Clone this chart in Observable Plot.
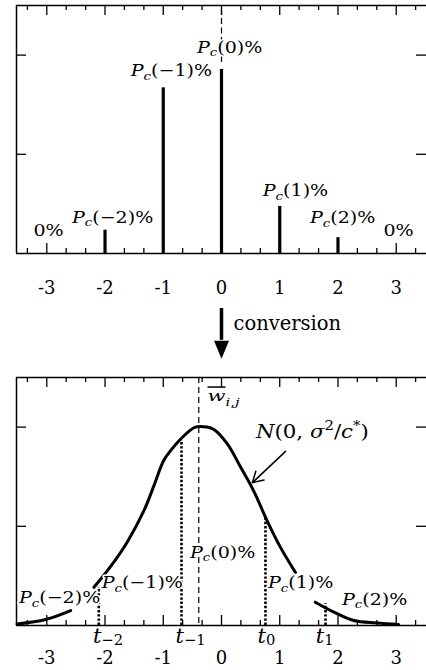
<!DOCTYPE html>
<html><head><meta charset="utf-8">
<script src="https://cdn.jsdelivr.net/npm/d3@7"></script>
<script src="https://cdn.jsdelivr.net/npm/@observablehq/plot@0.6"></script>
<style>html,body{margin:0;padding:0;background:#fff;overflow:hidden}#chart svg{display:block}</style>
</head><body><div id="chart"></div>
<script>
// ---- data ----
const offsets = [-3, -2, -1, 0, 1, 2, 3];
const probs = [0, 0.047, 0.334, 0.371, 0.095, 0.032, 0];
const barLabels = ["0%", "P_c(−2)%", "P_c(−1)%", "P_c(0)%", "P_c(1)%", "P_c(2)%", "0%"];
const barLabelX = [-2.97, -1.87, -0.86, 0.14, 1.27, 2.08, 3.04];
const barLabelY = [0.036, 0.0625, 0.357, 0.405, 0.115, 0.0605, 0.036];

const majorTicks = [-3, -2, -1, 0, 1, 2, 3];
const tickLabels = ["-3", "-2", "-1", "0", "1", "2", "3"];
const minorTicks = [-3.333, -2.667, -2.333, -1.667, -1.333, -0.667, -0.333, 0.333, 0.667, 1.333, 1.667, 2.333, 2.667, 3.333];
const yTicks = [0.2, 0.4];

const curveX = [-3.51, -3.02, -2.59, NaN, -2.19, -1.91, -1.62, -1.33, -1.16, -0.99, -0.85, -0.70, -0.45, -0.25, -0.13, 0.10, 0.33, 0.55, 0.78, 1.01, 1.27, NaN, 1.61, 1.93, 2.27, 2.67, 3.04];
const curveY = [0.003, 0.012, 0.030, NaN, 0.077, 0.118, 0.168, 0.232, 0.282, 0.333, 0.356, 0.376, 0.400, 0.400, 0.395, 0.366, 0.319, 0.272, 0.212, 0.158, 0.107, NaN, 0.047, 0.027, 0.010, 0.005, 0.002];

const tNames = ["t_{−2}", "t_{−1}", "t_0", "t_1"];
const tX = [-2.107, -0.687, 0.755, 1.786];
const tY = [0.077, 0.373, 0.216, 0.044];
const tLabelX = [-1.95, -0.53, 0.77, 1.77];

const areaLabels = ["P_c(−2)%", "P_c(−1)%", "P_c(0)%", "P_c(1)%", "P_c(2)%"];
const areaLabelX = [-2.78, -1.36, 0.02, 1.36, 2.63];
const areaLabelY = [0.0444, 0.0746, 0.137, 0.0746, 0.0423];
const meanX = -0.39;

// annotation positions
const convArrow = {x: 0, yTop: -0.111, yBase: -0.175, yHead: -0.194};
const convText = {x: 0.206, y: -0.155, text: "conversion"};
const wLabel = {x: -0.24, y: 0.452, text: "¯w_{i,j}"};
const nLabel = {x: 1.56, y: 0.379, text: "N(0, σ^2/c^*)"};
const nArrow = {x1: 1.10, y1: 0.351, x2: 0.53, y2: 0.288};

// ---- layout ----
const W = 426, ML = 16, MR = 0;
const FW = W - ML - MR, FH = 248;
const xDomain = [-3.52, 3.52];
const yDomain = [0, 0.5];
const font = '"DejaVu Serif", serif';

function frameMarks() {
  return [
    Plot.ruleY([yDomain[0]], {strokeWidth: 1.5}),
    Plot.ruleY([yDomain[1]], {strokeWidth: 1.5}),
    Plot.ruleX([xDomain[0]], {strokeWidth: 1.5}),
    Plot.tickX(majorTicks, {x: d => d, insetBottom: FH - 10, strokeWidth: 1.3}),
    Plot.tickX(majorTicks, {x: d => d, insetTop: FH - 10, strokeWidth: 1.3}),
    Plot.tickX(minorTicks, {x: d => d, insetBottom: FH - 5, strokeWidth: 1.3}),
    Plot.tickX(minorTicks, {x: d => d, insetTop: FH - 5, strokeWidth: 1.3}),
    Plot.tickY(yTicks, {y: d => d, insetRight: FW - 10, strokeWidth: 1.3}),
    Plot.tickY(yTicks, {y: d => d, insetLeft: FW - 10, strokeWidth: 1.3})
  ];
}

const downTri = {draw(ctx) { ctx.moveTo(-7.5, -9); ctx.lineTo(7.5, -9); ctx.lineTo(0, 9); ctx.closePath(); }};
// math text style: "math <horizontal stretch> <subscript shift (em)> <script scale>"
const M_P = "math 1.12 0.22 0.7";
const M_T = "math 1 0.1 0.7";
const M_N = "math 1.12 0.22 0.7";
const M_W = "math 1.4 0.3 0.7";

const topChart = Plot.plot({
  width: W, height: 370, marginLeft: ML, marginRight: MR, marginTop: 5, marginBottom: 117,
  x: {domain: xDomain, axis: null}, y: {domain: yDomain, axis: null},
  style: {fontFamily: font, background: "white", color: "black"},
  marks: [
    ...frameMarks(),
    Plot.ruleX([0], {y1: 0.385, y2: 0.5, strokeWidth: 1.2, strokeDasharray: "6,3.5"}),
    Plot.ruleX(offsets, {x: d => d, y1: 0, y2: (d, i) => probs[i], strokeWidth: 3.2}),
    Plot.text(barLabels, {x: (d, i) => barLabelX[i], y: (d, i) => barLabelY[i], text: d => d, lineAnchor: "bottom", fontSize: 17, fill: "black", stroke: "white", strokeWidth: 3, paintOrder: "stroke", ariaDescription: M_P}),
    Plot.text(tickLabels, {x: (d, i) => majorTicks[i], y: 0, text: d => d, dy: 40, lineAnchor: "bottom", fontSize: 18, fill: "black"}),
    Plot.ruleX([convArrow.x], {y1: convArrow.yTop, y2: convArrow.yBase, strokeWidth: 3.5}),
    Plot.dot([convArrow.x], {x: d => d, y: convArrow.yHead, symbol: downTri, fill: "black", stroke: "none"}),
    Plot.text([convText.text], {x: convText.x, y: convText.y, text: d => d, textAnchor: "start", lineAnchor: "bottom", fontSize: 19.5, fill: "black"})
  ]
});

const curve = curveX.map((x, i) => ({x, y: curveY[i]}));

const bottomChart = Plot.plot({
  width: W, height: 300, marginLeft: ML, marginRight: MR, marginTop: 7, marginBottom: 45,
  x: {domain: xDomain, axis: null}, y: {domain: yDomain, axis: null},
  style: {fontFamily: font, background: "white", color: "black"},
  marks: [
    ...frameMarks(),
    Plot.ruleX([meanX], {strokeWidth: 1.2, strokeDasharray: "6,4"}),
    Plot.ruleX(tX, {x: d => d, y1: 0, y2: (d, i) => tY[i], strokeWidth: 2.6, strokeDasharray: "2.4,1.8"}),
    Plot.line(curve, {x: "x", y: "y", strokeWidth: 3, curve: "catmull-rom"}),
    Plot.text(areaLabels, {x: (d, i) => areaLabelX[i], y: (d, i) => areaLabelY[i], text: d => d, lineAnchor: "bottom", fontSize: 17, fill: "black", stroke: "white", strokeWidth: 3, paintOrder: "stroke", ariaDescription: M_P}),
    Plot.text(tNames, {x: (d, i) => tLabelX[i], y: 0, text: d => d, dy: 17, lineAnchor: "bottom", fontSize: 21, fill: "black", ariaDescription: M_T}),
    Plot.text(tickLabels, {x: (d, i) => majorTicks[i], y: 0, text: d => d, dy: 38.5, lineAnchor: "bottom", fontSize: 18, fill: "black"}),
    Plot.text([wLabel.text], {x: wLabel.x, y: wLabel.y, text: d => d, textAnchor: "start", lineAnchor: "bottom", fontSize: 15, fill: "black", ariaDescription: M_W}),
    Plot.text([nLabel.text], {x: nLabel.x, y: nLabel.y, text: d => d, lineAnchor: "bottom", fontSize: 19, fill: "black", ariaDescription: M_N}),
    Plot.arrow([nArrow], {x1: "x1", y1: "y1", x2: "x2", y2: "y2", strokeWidth: 1.5, headLength: 12})
  ]
});

const root = document.getElementById("chart");
root.appendChild(topChart);
root.appendChild(bottomChart);

// render simple math markup (_sub, ^sup, ¯overline, italic letters) as tspans
function mathify(svg) {
  svg.querySelectorAll('g[aria-description^="math"]').forEach(g => {
    const [, kS, subS, scS] = g.getAttribute("aria-description").split(" ");
    const k = +kS, sub = +subS, sc = +scS;
    g.querySelectorAll("text").forEach(t => {
      const s = t.textContent;
      const fs = parseFloat(getComputedStyle(t).fontSize) || 16;
      const runs = [];
      const add = (ch, lvl, ov) => {
        const it = /[A-Za-zσ]/.test(ch);
        const last = runs[runs.length - 1];
        if (last && last.lvl === lvl && last.it === it && last.ov === ov) last.s += ch;
        else runs.push({s: ch, lvl, it, ov});
      };
      const cs = [...s];
      let i = 0;
      while (i < cs.length) {
        const ch = cs[i];
        if (ch === "_" || ch === "^") {
          const lvl = ch === "_" ? -1 : 1;
          i++;
          let grp;
          if (cs[i] === "{") { const j = cs.indexOf("}", i); grp = cs.slice(i + 1, j); i = j + 1; }
          else { grp = [cs[i]]; i++; }
          for (const gg of grp) add(gg, lvl, false);
        } else if (ch === "¯") { add(cs[i + 1], 0, true); i += 2; }
        else { add(ch, 0, false); i++; }
      }
      while (t.firstChild) t.removeChild(t.firstChild);
      let cur = 0;
      for (const r of runs) {
        const ts = document.createElementNS("http://www.w3.org/2000/svg", "tspan");
        const target = r.lvl === -1 ? sub * fs : r.lvl === 1 ? -0.42 * fs : 0;
        if (target !== cur) { ts.setAttribute("dy", target - cur); cur = target; }
        if (r.lvl) ts.setAttribute("font-size", sc * fs);
        if (r.it) ts.setAttribute("font-style", "italic");
        if (r.ov) ts.setAttribute("text-decoration", "overline");
        ts.textContent = r.s;
        t.appendChild(ts);
      }
      if (k !== 1) {
        const len = t.getComputedTextLength();
        t.setAttribute("textLength", len * k);
        t.setAttribute("lengthAdjust", "spacingAndGlyphs");
      }
    });
  });
}
mathify(topChart);
mathify(bottomChart);
</script>
</body></html>
